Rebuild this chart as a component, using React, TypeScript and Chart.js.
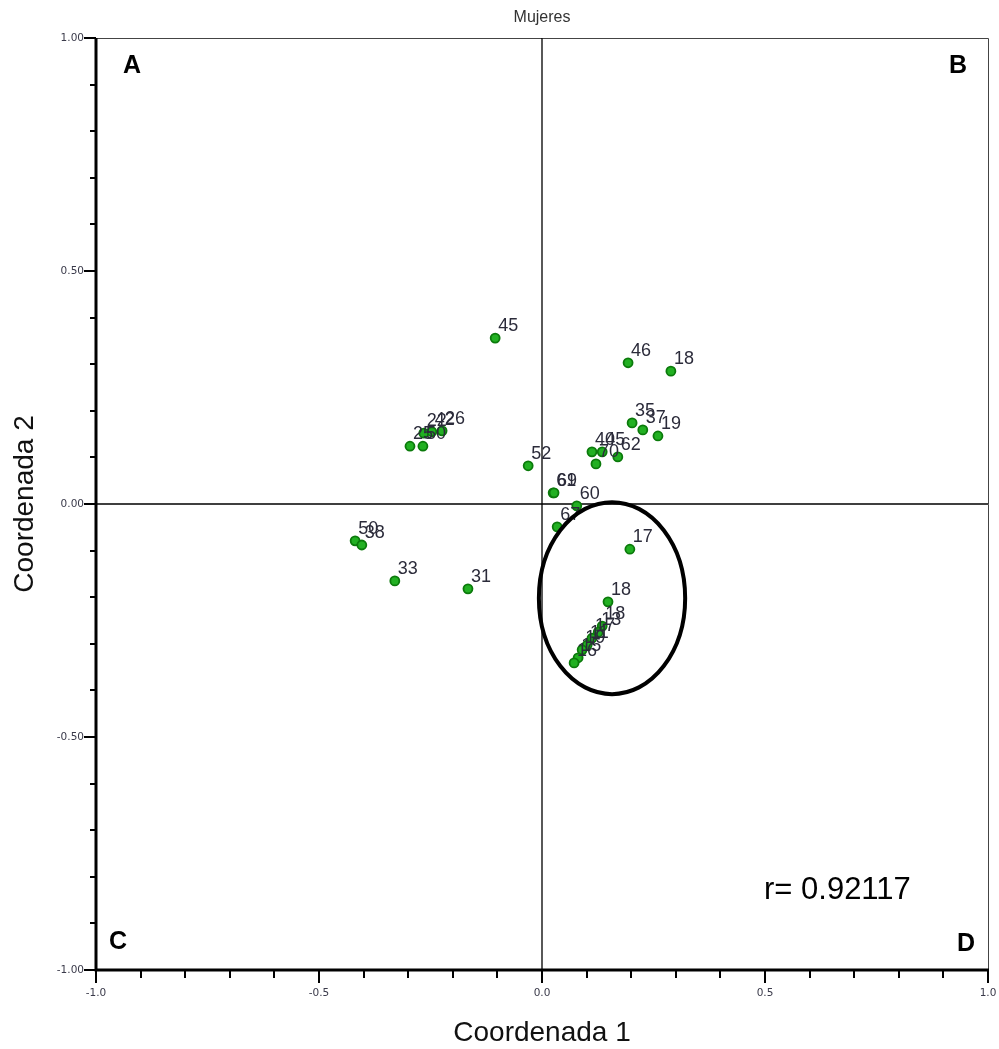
import React, { useEffect, useRef } from "react";
import { Chart, registerables } from "chart.js";

Chart.register(...registerables);

// Data: Coordenada 1 (x), Coordenada 2 (y) and the point labels
const pointLabels = [
  "45", "46", "18", "35", "37", "19", "62", "40", "45", "70", "52", "61", "69", "60", "67",
  "17", "18", "18", "13", "17", "11", "19", "15", "16",
  "25", "50", "22", "42", "26", "50", "38", "33", "31",
];
const coord1 = [
  -0.105, 0.193, 0.289, 0.202, 0.226, 0.260, 0.170, 0.112, 0.135, 0.121, -0.031, 0.025, 0.027, 0.078, 0.034,
  0.197, 0.148, 0.135, 0.126, 0.112, 0.101, 0.090, 0.081, 0.072,
  -0.296, -0.267, -0.265, -0.247, -0.224, -0.419, -0.404, -0.330, -0.166,
];
const coord2 = [
  0.356, 0.303, 0.285, 0.174, 0.159, 0.146, 0.101, 0.112, 0.112, 0.086, 0.082, 0.024, 0.024, -0.004, -0.049,
  -0.097, -0.210, -0.262, -0.275, -0.288, -0.303, -0.313, -0.330, -0.341,
  0.124, 0.124, 0.152, 0.155, 0.157, -0.079, -0.088, -0.165, -0.182,
];

// Axis ticks
const axisMin = -1;
const axisMax = 1;
const tickStep = 0.1;

// Annotations
const chartTitle = "Mujeres";
const xTitle = "Coordenada 1";
const yTitle = "Coordenada 2";
const corrText = "r= 0.92117";
const quadrantLetters = ["A", "B", "C", "D"];
// ellipse in data units: center x, center y, radius x, radius y
const ellipse = [0.157, -0.202, 0.164, 0.206];

const isMajor = (v: number) => Math.round(v * 10) % 5 === 0;

const overlayPlugin = {
  id: "overlay",
  beforeDatasetsDraw(chart: any) {
    const { ctx, chartArea: a, scales } = chart;
    const xs = scales.x;
    const ys = scales.y;
    ctx.save();
    // top and right border
    ctx.strokeStyle = "#444";
    ctx.lineWidth = 1;
    ctx.beginPath();
    ctx.moveTo(a.left, a.top + 0.5);
    ctx.lineTo(a.right + 0.5, a.top + 0.5);
    ctx.lineTo(a.right + 0.5, a.bottom);
    ctx.stroke();
    // zero lines
    ctx.strokeStyle = "#000";
    ctx.lineWidth = 1.3;
    const x0 = xs.getPixelForValue(0);
    const y0 = ys.getPixelForValue(0);
    ctx.beginPath();
    ctx.moveTo(x0, a.top);
    ctx.lineTo(x0, a.bottom);
    ctx.moveTo(a.left, y0);
    ctx.lineTo(a.right, y0);
    ctx.stroke();
    // main axes
    ctx.lineWidth = 3;
    ctx.beginPath();
    ctx.moveTo(a.left, a.top);
    ctx.lineTo(a.left, a.bottom);
    ctx.lineTo(a.right + 1, a.bottom);
    ctx.stroke();
    // ticks
    ctx.lineWidth = 2;
    ctx.beginPath();
    const n = Math.round((axisMax - axisMin) / tickStep);
    for (let i = 0; i <= n; i++) {
      const v = axisMin + i * tickStep;
      const major = isMajor(v);
      const px = Math.round(xs.getPixelForValue(v));
      ctx.moveTo(px, a.bottom);
      ctx.lineTo(px, a.bottom + (major ? 13 : 8));
      const py = Math.round(ys.getPixelForValue(v));
      ctx.moveTo(a.left, py);
      ctx.lineTo(a.left - (major ? 12 : 6), py);
    }
    ctx.stroke();
    ctx.restore();
  },
  afterDatasetsDraw(chart: any) {
    const { ctx, chartArea: a, scales } = chart;
    const xs = scales.x;
    const ys = scales.y;
    ctx.save();
    // point labels
    ctx.font = "18px 'Liberation Sans', Arial, sans-serif";
    ctx.fillStyle = "#2b2b3a";
    ctx.textAlign = "left";
    ctx.textBaseline = "alphabetic";
    for (let i = 0; i < pointLabels.length; i++) {
      const px = xs.getPixelForValue(coord1[i]);
      const py = ys.getPixelForValue(coord2[i]);
      ctx.fillText(pointLabels[i], px + 3, py - 7);
    }
    // ellipse
    const cx = xs.getPixelForValue(ellipse[0]);
    const cy = ys.getPixelForValue(ellipse[1]);
    const rx = Math.abs(xs.getPixelForValue(ellipse[0] + ellipse[2]) - cx);
    const ry = Math.abs(ys.getPixelForValue(ellipse[1] + ellipse[3]) - cy);
    ctx.strokeStyle = "#000";
    ctx.lineWidth = 4;
    ctx.beginPath();
    ctx.ellipse(cx, cy, rx, ry, 0, 0, Math.PI * 2);
    ctx.stroke();
    // quadrant letters
    ctx.font = "bold 25px 'Liberation Sans', Arial, sans-serif";
    ctx.fillStyle = "#000";
    ctx.textAlign = "center";
    ctx.textBaseline = "middle";
    ctx.fillText(quadrantLetters[0], a.left + 36, a.top + 28);
    ctx.fillText(quadrantLetters[1], a.right - 30, a.top + 28);
    ctx.fillText(quadrantLetters[2], a.left + 22, a.bottom - 28);
    ctx.fillText(quadrantLetters[3], a.right - 22, a.bottom - 26);
    // correlation
    ctx.font = "31px 'Liberation Sans', Arial, sans-serif";
    ctx.textAlign = "left";
    ctx.textBaseline = "alphabetic";
    ctx.fillText(corrText, 764, 899);
    // title
    ctx.font = "16px 'Liberation Sans', Arial, sans-serif";
    ctx.fillStyle = "#333";
    ctx.textAlign = "center";
    ctx.textBaseline = "middle";
    ctx.fillText(chartTitle, xs.getPixelForValue(0), 18);
    // axis titles
    ctx.font = "28px 'Liberation Sans', Arial, sans-serif";
    ctx.fillStyle = "#111";
    ctx.fillText(xTitle, xs.getPixelForValue(0), 1033);
    ctx.translate(25, ys.getPixelForValue(0));
    ctx.rotate(-Math.PI / 2);
    ctx.fillText(yTitle, 0, 0);
    ctx.restore();
  },
};

export default function App() {
  const ref = useRef<HTMLCanvasElement | null>(null);
  useEffect(() => {
    document.body.style.margin = "0";
    const canvas = ref.current;
    if (!canvas) return;
    const points = coord1.map((x, i) => ({ x, y: coord2[i] }));
    const tickFont = { family: "'DejaVu Sans', sans-serif", size: 10.5 };
    const chart = new Chart(canvas, {
      type: "scatter",
      data: {
        datasets: [
          {
            data: points,
            pointStyle: "circle",
            pointRadius: 4.5,
            backgroundColor: "#22b022",
            borderColor: "#0b7a0b",
            borderWidth: 1.8,
          },
        ],
      },
      options: {
        responsive: false,
        animation: false,
        events: [],
        layout: { padding: { top: 38, right: 11, left: 0, bottom: 0 } },
        plugins: {
          legend: { display: false },
          tooltip: { enabled: false },
          title: { display: false },
        },
        scales: {
          x: {
            type: "linear",
            min: axisMin,
            max: axisMax,
            grid: { display: false, drawTicks: false, tickLength: 0 },
            border: { display: false },
            afterFit: (s: any) => {
              s.height = 79;
              s.paddingLeft = 0;
              s.paddingRight = 0;
            },
            ticks: {
              stepSize: tickStep,
              autoSkip: false,
              maxRotation: 0,
              padding: 17,
              color: "#3a3a4a",
              font: tickFont,
              callback: (v: any) => (isMajor(Number(v)) ? Number(v).toFixed(1) : ""),
            },
          },
          y: {
            type: "linear",
            min: axisMin,
            max: axisMax,
            grid: { display: false, drawTicks: false, tickLength: 0 },
            border: { display: false },
            afterFit: (s: any) => {
              s.width = 96;
              s.paddingTop = 0;
              s.paddingBottom = 0;
            },
            ticks: {
              stepSize: tickStep,
              autoSkip: false,
              padding: 12,
              color: "#3a3a4a",
              font: tickFont,
              callback: (v: any) => (isMajor(Number(v)) ? Number(v).toFixed(2) : ""),
            },
          },
        },
      },
      plugins: [overlayPlugin],
    });
    return () => chart.destroy();
  }, []);
  return <canvas ref={ref} width={999} height={1049} style={{ display: "block", width: 999, height: 1049 }} />;
}
